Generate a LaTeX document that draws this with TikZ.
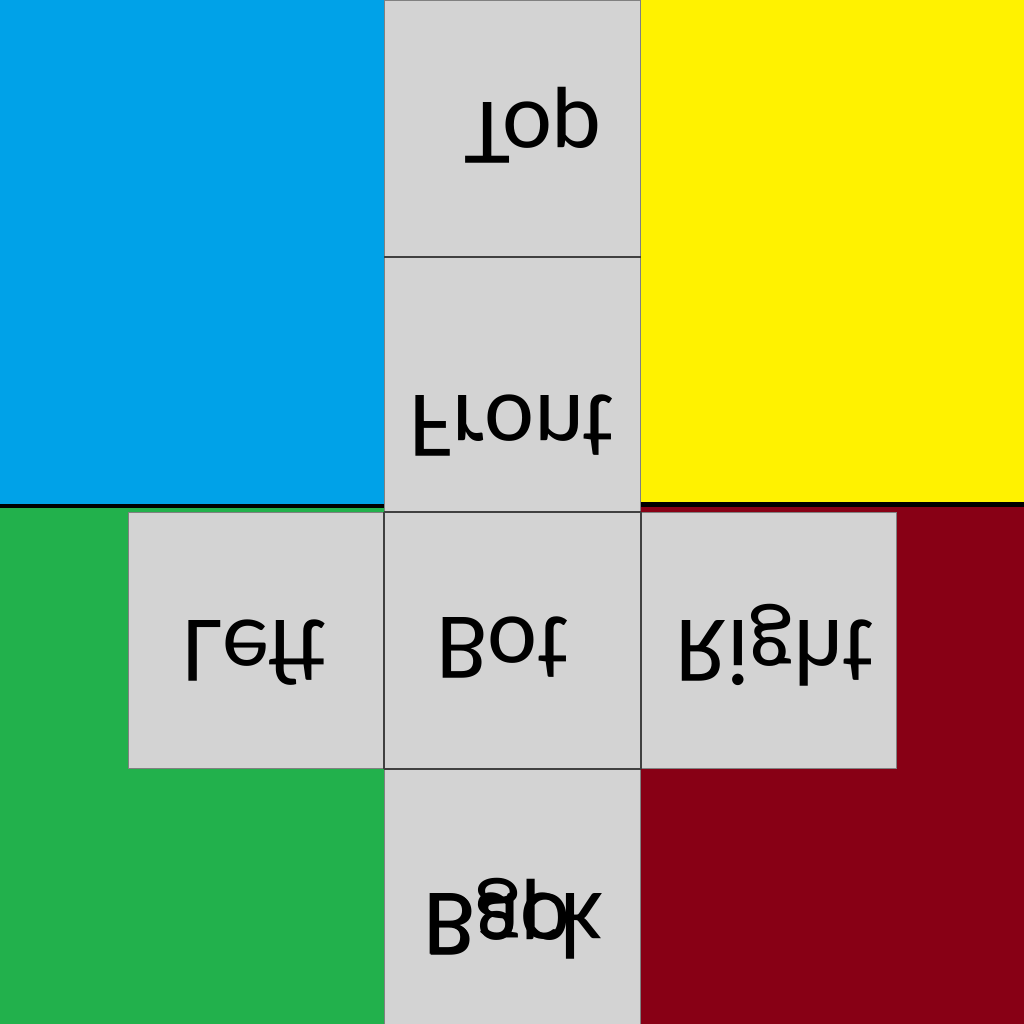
\documentclass[tikz,border=0pt]{standalone}
\usepackage{fontspec}
\setmainfont{Carlito}
\usepackage{graphicx}
\newcommand{\flipv}[1]{\scalebox{1}[-1]{#1}}
\definecolor{cblue}{RGB}{0,162,232}
\definecolor{cyellow}{RGB}{255,242,0}
\definecolor{cgreen}{RGB}{34,177,76}
\definecolor{cred}{RGB}{136,0,21}
\definecolor{facegray}{RGB}{211,211,211}
\definecolor{edgegray}{RGB}{128,128,128}
\definecolor{innerline}{RGB}{64,64,64}
\tikzset{
  face/.style={fill=facegray, draw=edgegray, line width=0.9pt, minimum size=192pt, inner sep=0pt, anchor=north west},
  seam/.style={draw=innerline, line width=1.5pt},
  sepline/.style={draw=black, line width=3.4pt},
  lbl/.style={inner sep=0pt, anchor=base, font=\fontsize{71}{85}\selectfont, text=black}
}
\begin{document}
\begin{tikzpicture}[x=0.75pt,y=-0.75pt]
\useasboundingbox (0,0) rectangle (1024,1024);
% background quadrants
\fill[cblue] (0,0) rectangle (384,506);
\fill[cyellow] (640,0) rectangle (1024,505);
\fill[cgreen] (0,506) rectangle (384,1024);
\fill[cred] (640,505) rectangle (1024,1024);
\coordinate (sl1) at (0,506);
\coordinate (sl2) at (385,506);
\coordinate (sr1) at (641,504.5);
\coordinate (sr2) at (1024,504.5);
\draw[sepline] (sl1) -- (sl2);
\draw[sepline] (sr1) -- (sr2);
% faces
\node[face] (top) at (384,0) {};
\node[face] (front) at (384,256) {};
\node[face] (left) at (128,512) {};
\node[face] (bot) at (384,512) {};
\node[face] (right) at (640,512) {};
\node[face] (back) at (384,768) {};
% seams
\draw[seam] (top.south west) -- (top.south east);
\draw[seam] (bot.north west) -- (bot.north east);
\draw[seam] (bot.south west) -- (bot.south east);
\draw[seam] (bot.north west) -- (bot.south west);
\draw[seam] (bot.north east) -- (bot.south east);
% labels (mirrored top-to-bottom)
\node[lbl] (ttop) at (533,103) {\flipv{Top}};
\node[lbl] (tfront) at (512,395) {\flipv{Front}};
\node[lbl] (tleft) at (255,620) {\flipv{Left}};
\node[lbl] (tbot) at (503,617) {\flipv{Bot}};
\node[lbl] (tright) at (775,620) {\flipv{Right}};
\node[lbl, anchor=base west] (tback) at (423,893) {\flipv{Back}};
\node[lbl, anchor=base west] (tback2) at (424,894) {\flipv{Bgp}};
\end{tikzpicture}
\end{document}
